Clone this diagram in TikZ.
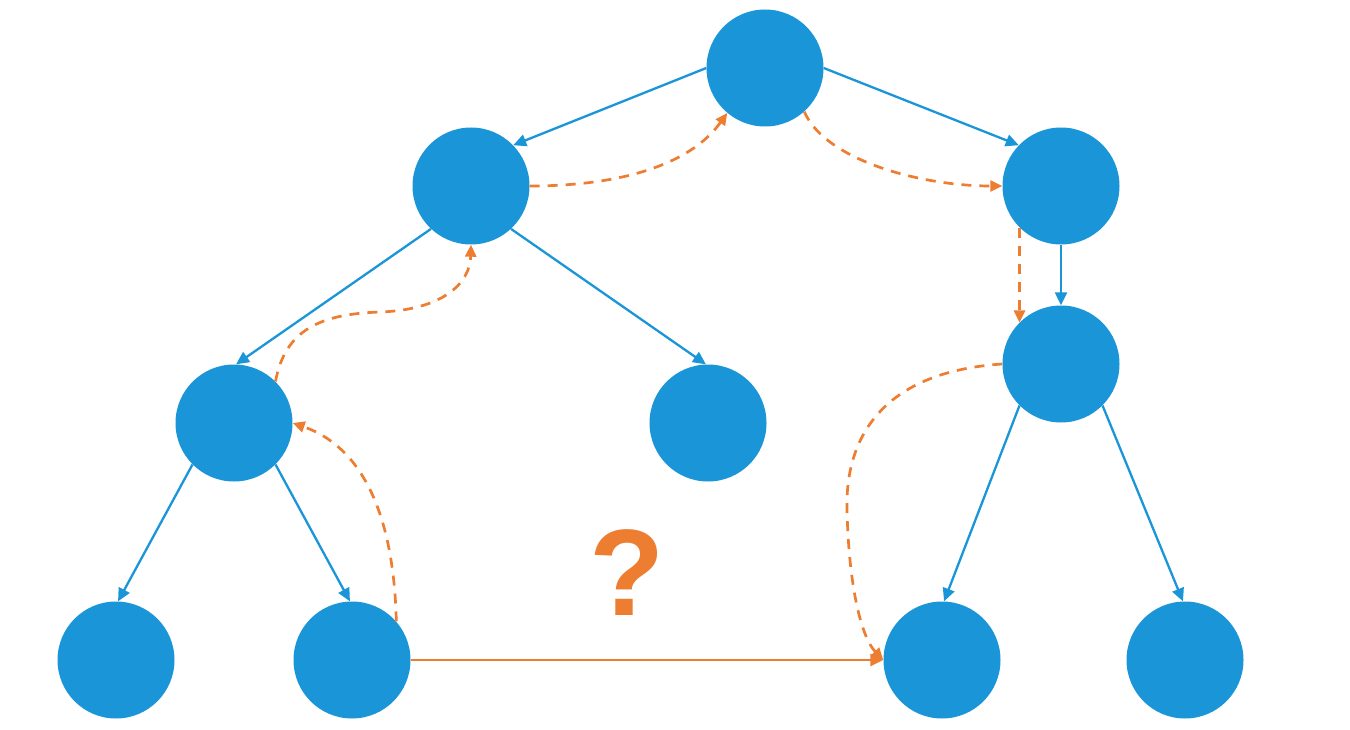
\documentclass[tikz,border=0pt]{standalone}
\usepackage{fontspec}
\setmainfont{Liberation Sans}
\usetikzlibrary{arrows.meta}
\definecolor{tblue}{HTML}{1A95D8}
\definecolor{torange}{HTML}{ED7D31}
\begin{document}
\begin{tikzpicture}[x=1pt,y=-1pt,
  vtx/.style={circle,fill=tblue,minimum size=117pt,inner sep=0pt},
  tedge/.style={draw=tblue,line width=2.3pt,-{Triangle[length=13pt,width=12pt]}},
  walk/.style={draw=torange,line width=2.7pt,dash pattern=on 10pt off 8pt,-{Triangle[length=12pt,width=11pt]}},
  jump/.style={draw=torange,line width=2.4pt,-{Triangle[length=13pt,width=12pt]}}]
\useasboundingbox (0,0) rectangle (1350,730);
\node[vtx] (root) at (765,68) {};
\node[vtx] (L1) at (471,186) {};
\node[vtx] (R1) at (1061,186) {};
\node[vtx] (R2) at (1061,364) {};
\node[vtx] (LL) at (234,423) {};
\node[vtx] (LR) at (708,423) {};
\node[vtx] (LLL) at (116,660) {};
\node[vtx] (LLR) at (352,660) {};
\node[vtx] (R2L) at (942,660) {};
\node[vtx] (R2R) at (1185,660) {};
\node[text=torange,font=\bfseries\fontsize{123}{123}\selectfont,inner sep=0pt] (q) at (627,573) {?};
% tree edges
\draw[tedge] (root.180) -- (L1.44);
\draw[tedge] (root.0) -- (R1.136);
\draw[tedge] (L1.227) -- (LL.88);
\draw[tedge] (L1.313) -- (LR.92);
\draw[tedge] (R1.south) -- (R2.north);
\draw[tedge] (LL.225) -- (LLL.88);
\draw[tedge] (LL.315) -- (LLR.92);
\draw[tedge] (R2.225) -- (R2L.88);
\draw[tedge] (R2.315) -- (R2R.92);
% traversal
\draw[walk] (L1.east) .. controls (620,186) and (690,165) .. (root.230);
\draw[walk] (root.-48) .. controls (825,160) and (920,186) .. (R1.west);
\draw[walk] (R1.225) -- (R2.135);
\draw[walk] (R2.west) .. controls (880,372) and (845,440) .. (847,510) .. controls (849,590) and (862,638) .. (R2L.west);
\draw[walk] (LLR.41) .. controls (394,520) and (365,448) .. (LL.east);
\draw[walk] (LL.45) .. controls (285,330) and (320,314) .. (380,312) .. controls (440,310) and (470,285) .. (L1.south);
\draw[jump] (LLR.east) -- (R2L.west);
\end{tikzpicture}
\end{document}
